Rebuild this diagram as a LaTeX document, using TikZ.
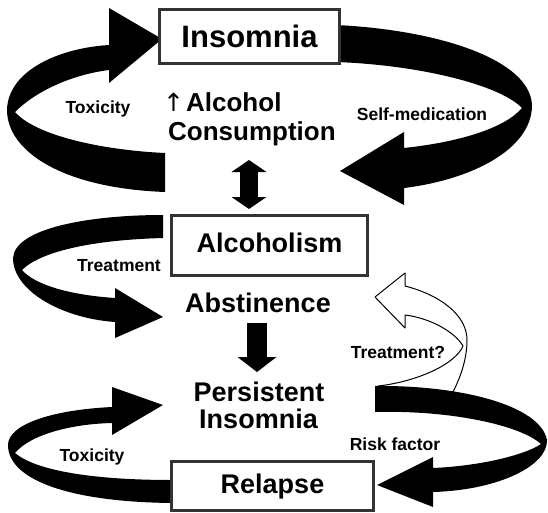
\documentclass[tikz,border=0pt]{standalone}
\usepackage{fontspec}
\setmainfont{Liberation Sans}
\newfontfamily\arrowfont{DejaVu Sans}
\usetikzlibrary{arrows.meta}
\begin{document}
\begin{tikzpicture}[x=1pt,y=-1pt,
  box/.style={draw=black!80, line width=3pt, fill=white, inner sep=0pt,
    font=\bfseries\fontsize{27}{27}\selectfont, text height=19.3pt, text depth=0pt},
  big/.style={inner sep=0pt, font=\bfseries\fontsize{27}{27}\selectfont},
  mid/.style={inner sep=0pt, font=\bfseries\fontsize{26}{26}\selectfont},
  small/.style={inner sep=0pt, font=\bfseries\fontsize{17.5}{17.5}\selectfont},
  ribbon/.style={fill=black},
  hollow/.style={fill=white, draw=black, line width=1pt, line join=round},
  dblarrow/.style={line width=18pt, draw=black,
    {Triangle[width=35pt,length=12pt,line width=0pt]}-{Triangle[width=35pt,length=12pt,line width=0pt]}},
  downarrow/.style={line width=20pt, draw=black,
    -{Triangle[width=39pt,length=15pt,line width=0pt]}}]
\useasboundingbox (0,0) rectangle (548,513);

% top-left ribbon (Toxicity)
\fill[ribbon] (165,153) .. controls (100,150) and (35,135) .. (15,112)
  .. controls (35,92) and (70,75) .. (109,70)
  -- (109,83) -- (162,39) -- (109,8) -- (109,45)
  .. controls (60,48) and (8,70) .. (7,110)
  .. controls (7,150) and (60,188) .. (165,192) -- cycle;

% top-right ribbon (Self-medication)
\fill[ribbon] (336,25) .. controls (440,30) and (530,60) .. (532,105)
  .. controls (532,150) and (470,180) .. (404,188)
  -- (404,205) -- (340,171) -- (404,132) -- (404,148)
  .. controls (460,142) and (505,128) .. (522,108)
  .. controls (500,85) and (420,65) .. (336,62) -- cycle;

% middle-left ribbon (Treatment)
\fill[ribbon] (163,215) .. controls (90,215) and (15,228) .. (13,258)
  .. controls (13,290) and (60,318) .. (115,322)
  -- (115,338) -- (163,317) -- (115,288) -- (115,298)
  .. controls (70,295) and (35,285) .. (22,270)
  .. controls (40,252) and (90,240) .. (163,238) -- cycle;

% bottom-left ribbon (Toxicity)
\fill[ribbon] (172,503) .. controls (70,502) and (8,480) .. (8,445)
  .. controls (8,425) and (50,410) .. (112,407)
  -- (112,387) -- (163,405) -- (112,435) -- (112,423)
  .. controls (70,424) and (30,435) .. (15,453)
  .. controls (35,470) and (90,480) .. (172,480) -- cycle;

% hollow arrow (Treatment?)
\filldraw[hollow] (378,386) .. controls (415,382) and (455,365) .. (463,346)
  .. controls (455,332) and (430,318) .. (405,315)
  -- (405,328) -- (375,297) -- (405,273) -- (405,286)
  .. controls (440,295) and (467,315) .. (467,340)
  .. controls (467,360) and (460,378) .. (453,392)
  -- (400,398) -- cycle;

% bottom-right ribbon (Risk factor)
\fill[ribbon] (375,386) .. controls (460,385) and (540,405) .. (547,440)
  .. controls (548,465) and (500,490) .. (433,492)
  -- (433,507) -- (377,485) -- (433,457) -- (433,468)
  .. controls (480,466) and (525,455) .. (541,444)
  .. controls (520,425) and (450,410) .. (375,412) -- cycle;

% boxes
\node[box, minimum width=180pt, minimum height=54pt,
  font=\bfseries\fontsize{31}{31}\selectfont, text height=22.2pt, text depth=1pt] (ins) at (249.5,36.5) {Insomnia};
\node[box, minimum width=196pt, minimum height=60pt, text depth=6pt] (alc) at (269.5,245.5) {Alcoholism};
\node[box, minimum width=202pt, minimum height=49pt, text depth=4pt] (rel) at (272.5,486) {Relapse};

% free texts
\node[mid, anchor=base west] (cons1) at (163,112) {{\arrowfont\mdseries\fontsize{25}{25}\selectfont ↑}\hspace{2pt}Alcohol};
\node[mid, anchor=base west] (cons2) at (168,141) {Consumption};
\node[big, anchor=base] (abs) at (258,312) {Abstinence};
\node[big, anchor=base] (per1) at (259,401) {Persistent};
\node[big, anchor=base] (per2) at (258.5,428) {Insomnia};

\node[small, anchor=base] (tox1) at (98,114) {Toxicity};
\node[small, anchor=base] (self) at (422,121) {Self-medication};
\node[small, anchor=base] (tr1) at (119,271) {Treatment};
\node[small, anchor=base] (tr2) at (398,358) {Treatment?};
\node[small, anchor=base] (tox2) at (92,461) {Toxicity};
\node[small, anchor=base] (risk) at (395,450) {Risk factor};

% straight fat arrows
\coordinate (d1) at (249,160);
\coordinate (d2) at (249,209);
\draw[dblarrow] (d1) -- (d2);
\coordinate (a1) at (257,323);
\coordinate (a2) at (257,372);
\draw[downarrow] (a1) -- (a2);
\end{tikzpicture}
\end{document}
